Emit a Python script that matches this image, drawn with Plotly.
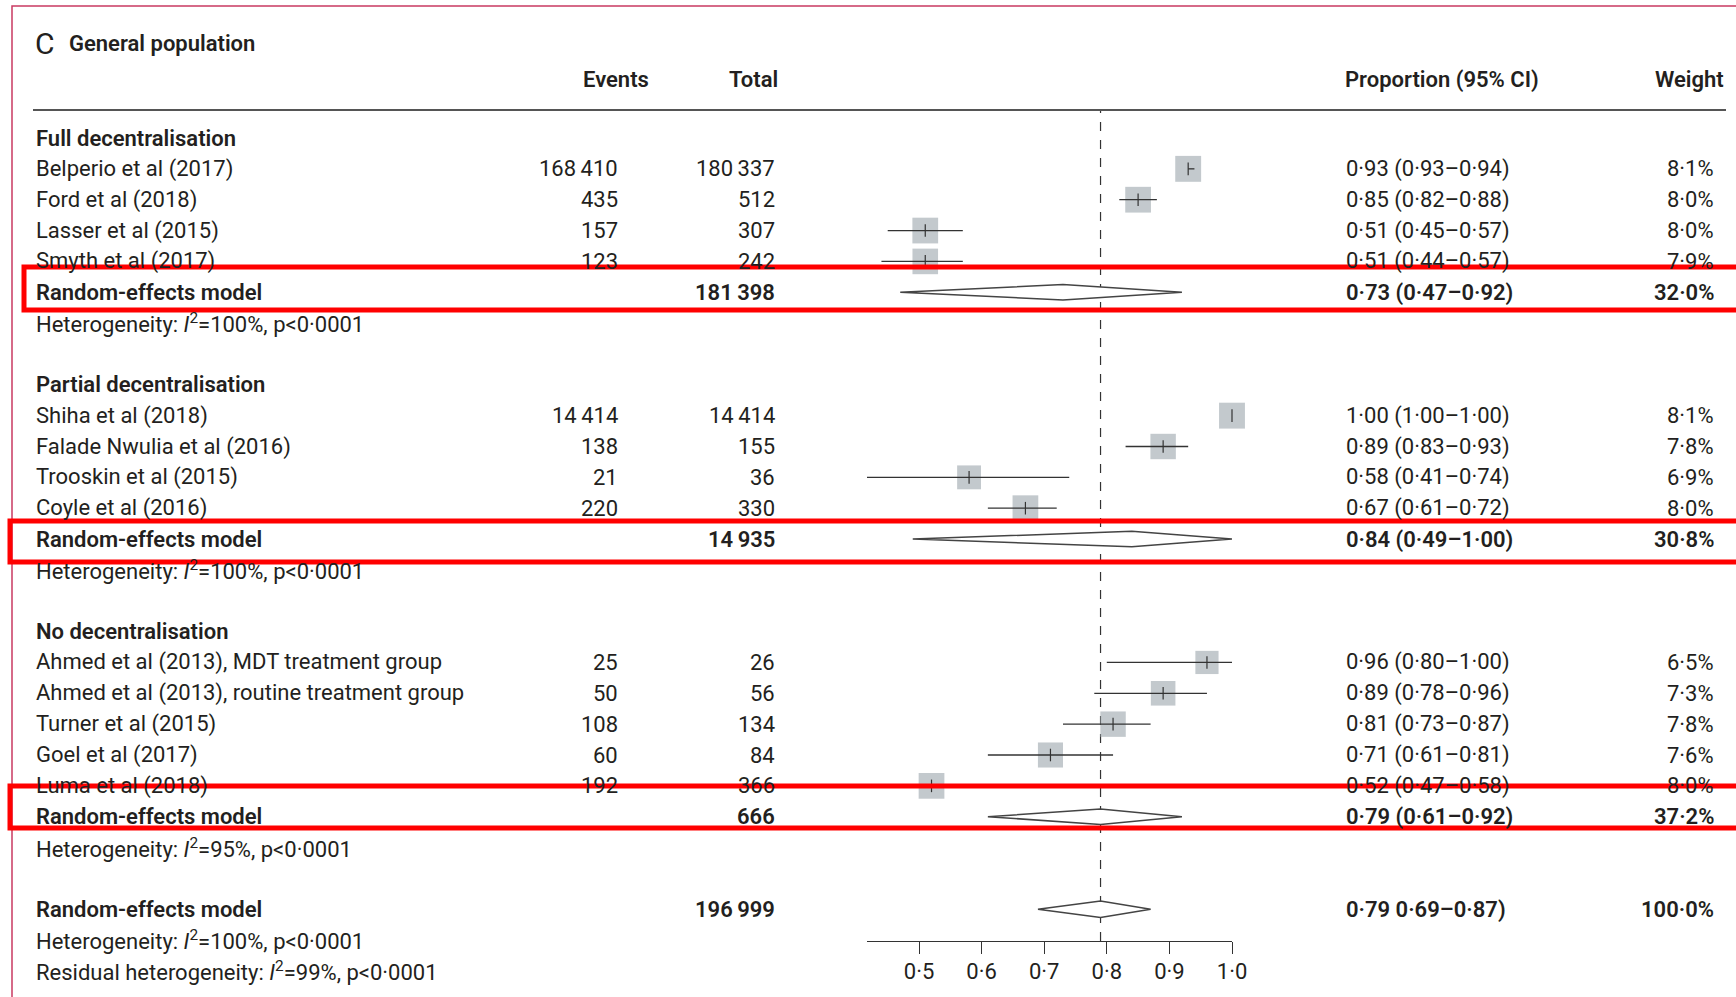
import plotly.graph_objects as go

W, H = 1736, 997
WX = 1721  # horizontal extent the page actually gives the figure

# ---------------- data ----------------
group_titles = ["Full decentralisation", "Partial decentralisation", "No decentralisation"]

studies = [
    ["Belperio et al (2017)", "Ford et al (2018)", "Lasser et al (2015)", "Smyth et al (2017)"],
    ["Shiha et al (2018)", "Falade Nwulia et al (2016)", "Trooskin et al (2015)", "Coyle et al (2016)"],
    ["Ahmed et al (2013), MDT treatment group", "Ahmed et al (2013), routine treatment group",
     "Turner et al (2015)", "Goel et al (2017)", "Luma et al (2018)"],
]
events = [[168410, 435, 157, 123], [14414, 138, 21, 220], [25, 50, 108, 60, 192]]
totals = [[180337, 512, 307, 242], [14414, 155, 36, 330], [26, 56, 134, 84, 366]]
est = [[0.93, 0.85, 0.51, 0.51], [1.00, 0.89, 0.58, 0.67], [0.96, 0.89, 0.81, 0.71, 0.52]]
lo = [[0.93, 0.82, 0.45, 0.44], [1.00, 0.83, 0.41, 0.61], [0.80, 0.78, 0.73, 0.61, 0.47]]
hi = [[0.94, 0.88, 0.57, 0.57], [1.00, 0.93, 0.74, 0.72], [1.00, 0.96, 0.87, 0.81, 0.58]]
weights = [[8.1, 8.0, 8.0, 7.9], [8.1, 7.8, 6.9, 8.0], [6.5, 7.3, 7.8, 7.6, 8.0]]

sub_total = [181398, 14935, 666]
sub_est = [0.73, 0.84, 0.79]
sub_lo = [0.47, 0.49, 0.61]
sub_hi = [0.92, 1.00, 0.92]
sub_weight = [32.0, 30.8, 37.2]
sub_i2 = ["100%", "100%", "95%"]

overall_total = 196999
overall_est, overall_lo, overall_hi = 0.79, 0.69, 0.87
overall_text = "0·79 0·69–0·87)"
overall_weight = 100.0
overall_i2 = "100%"
residual_i2 = "99%"

tick_vals = [0.5, 0.6, 0.7, 0.8, 0.9, 1.0]
tick_text = ["0·5", "0·6", "0·7", "0·8", "0·9", "1·0"]

# ---------------- layout constants ----------------
FONT = "Roboto"
TXT = "#231f20"
ROW0_PX, ROW_PX = 138, 30.85
AX_PX = 941  # pixel row of forest axis line
BOLD = 600


def prow(px):
    return (px - ROW0_PX) / ROW_PX


def row_paper(row):
    return 1 - (ROW0_PX + row * ROW_PX) / H


def px_(x):
    return x / WX


def py(y):
    return 1 - y / H


def fmt_n(n):
    return f"{n:,}".replace(",", "\u2009")


def fmt_d(v, nd=2):
    return f"{v:.{nd}f}".replace(".", "·")


def fmt_ci(e, l, h):
    return f"{fmt_d(e)} ({fmt_d(l)}–{fmt_d(h)})"


def fmt_w(w):
    return f"{fmt_d(w, 1)}%"


het = "Heterogeneity: <i>I</i><sup>2</sup>={}, p<0·0001"

annotations = []


def txt(xpx, row, text, anchor="left", bold=False, size=22):
    annotations.append(dict(
        x=px_(xpx), xref="paper", y=row_paper(row), yref="paper", text=text, showarrow=False,
        xanchor=anchor, yanchor="middle",
        font=dict(family=FONT, size=size, color=TXT, weight=BOLD if bold else 400),
    ))


X_LABEL, X_EV, X_TOT, X_PROP, X_W = 34, 620, 777, 1344, 1716

# header
txt(33, prow(43), "C", size=30)
txt(67, prow(44), "General population", bold=True)
txt(651, prow(80), "Events", "right", True)
txt(780, prow(80), "Total", "right", True)
txt(1343, prow(80), "Proportion (95% CI)", "left", True)
txt(1726, prow(80), "Weight", "right", True)

sq_x, sq_y, sq_s = [], [], []
ci_x, ci_y = [], []
dia_x, dia_y = [], []

row = 0
for g in range(3):
    txt(X_LABEL, row, group_titles[g], bold=True)
    row += 1
    for i, name in enumerate(studies[g]):
        txt(X_LABEL, row, name)
        txt(X_EV, row, fmt_n(events[g][i]), "right")
        txt(X_TOT, row, fmt_n(totals[g][i]), "right")
        txt(X_PROP, row, fmt_ci(est[g][i], lo[g][i], hi[g][i]))
        txt(X_W, row, fmt_w(weights[g][i]), "right")
        sq_x.append(est[g][i]); sq_y.append(row); sq_s.append(9.1 * weights[g][i] ** 0.5)
        ci_x += [lo[g][i], hi[g][i], None]; ci_y += [row, row, None]
        row += 1
    txt(X_LABEL, row, "Random-effects model", bold=True)
    txt(X_TOT, row, fmt_n(sub_total[g]), "right", True)
    txt(X_PROP, row, fmt_ci(sub_est[g], sub_lo[g], sub_hi[g]), bold=True)
    txt(X_W, row, fmt_w(sub_weight[g]), "right", True)
    h = 0.25
    dia_x += [sub_lo[g], sub_est[g], sub_hi[g], sub_est[g], sub_lo[g], None]
    dia_y += [row, row - h, row, row + h, row, None]
    row += 1
    txt(X_LABEL, row, het.format(sub_i2[g]))
    row += 2

txt(X_LABEL, row, "Random-effects model", bold=True)
txt(X_TOT, row, fmt_n(overall_total), "right", True)
txt(X_PROP, row, overall_text, bold=True)
txt(X_W, row, fmt_w(overall_weight), "right", True)
h = 0.27
dia_x += [overall_lo, overall_est, overall_hi, overall_est, overall_lo, None]
dia_y += [row, row - h, row, row + h, row, None]
txt(X_LABEL, row + 1, het.format(overall_i2))
txt(X_LABEL, row + 2, "Residual heterogeneity: <i>I</i><sup>2</sup>={}, p<0·0001".format(residual_i2))

fig = go.Figure()
fig.add_trace(go.Scatter(x=sq_x, y=sq_y, mode="markers", cliponaxis=False, hoverinfo="skip",
                         marker=dict(symbol="square", size=sq_s, color="#aab2b8", line=dict(width=0))))
fig.add_trace(go.Scatter(x=ci_x, y=ci_y, mode="lines", cliponaxis=False, hoverinfo="skip",
                         line=dict(color="#333333", width=1.3)))
fig.add_trace(go.Scatter(x=sq_x, y=sq_y, mode="markers", cliponaxis=False, hoverinfo="skip",
                         marker=dict(symbol="line-ns", size=9, line=dict(color="#333333", width=1.2))))
fig.add_trace(go.Scatter(x=dia_x, y=dia_y, mode="lines", fill="toself", fillcolor="white",
                         cliponaxis=False, hoverinfo="skip",
                         line=dict(color="#444444", width=1.5)))

ydom0 = 1 - AX_PX / H
x_lo_range = 0.5 - (919 - 867) / 626.0
XR = px_(1740)  # a little past the right edge of the page

shapes = [
    # frame
    dict(type="path", xref="paper", yref="paper",
         path=f"M {px_(12)} 0 L {px_(12)} {py(6)} L {XR} {py(6)}",
         line=dict(color="#c93a62", width=1.5)),
    # header rule
    dict(type="line", xref="paper", yref="paper", x0=px_(33), x1=px_(1726), y0=py(110), y1=py(110),
         line=dict(color="#555555", width=1.8)),
    # reference line at overall estimate
    dict(type="line", xref="x", yref="paper", x0=overall_est, x1=overall_est, y0=ydom0, y1=py(110),
         line=dict(color="#333333", width=1.2, dash="dash"), layer="below"),
]
# red highlight boxes (open on the right: they run off the page)
for x0, y0, y1 in [(24, 267, 310), (10, 521, 562), (10, 786, 828)]:
    shapes.append(dict(type="path", xref="paper", yref="paper",
                       path=f"M {XR} {py(y0)} L {px_(x0)} {py(y0)} L {px_(x0)} {py(y1)} L {XR} {py(y1)}",
                       line=dict(color="#ff0000", width=5)))

fig.update_layout(
    width=W, height=H, autosize=False,
    margin=dict(l=0, r=0, t=0, b=0, pad=0),
    paper_bgcolor="white", plot_bgcolor="white",
    showlegend=False,
    shapes=shapes, annotations=annotations,
    xaxis=dict(domain=[px_(867), px_(1232)], range=[x_lo_range, 1.0], showgrid=False, zeroline=False,
               showline=True, linecolor="#333333", linewidth=1.3, ticks="outside", ticklen=12,
               tickwidth=1.3, tickcolor="#333333", tickvals=tick_vals, ticktext=tick_text,
               ticklabelstandoff=-2,
               tickfont=dict(family=FONT, size=22, color=TXT), fixedrange=True, anchor="y"),
    yaxis=dict(domain=[ydom0, 1], range=[prow(AX_PX), prow(0)], visible=False, fixedrange=True,
               anchor="x"),
)

fig.write_html("out.html", config={"displayModeBar": False})
